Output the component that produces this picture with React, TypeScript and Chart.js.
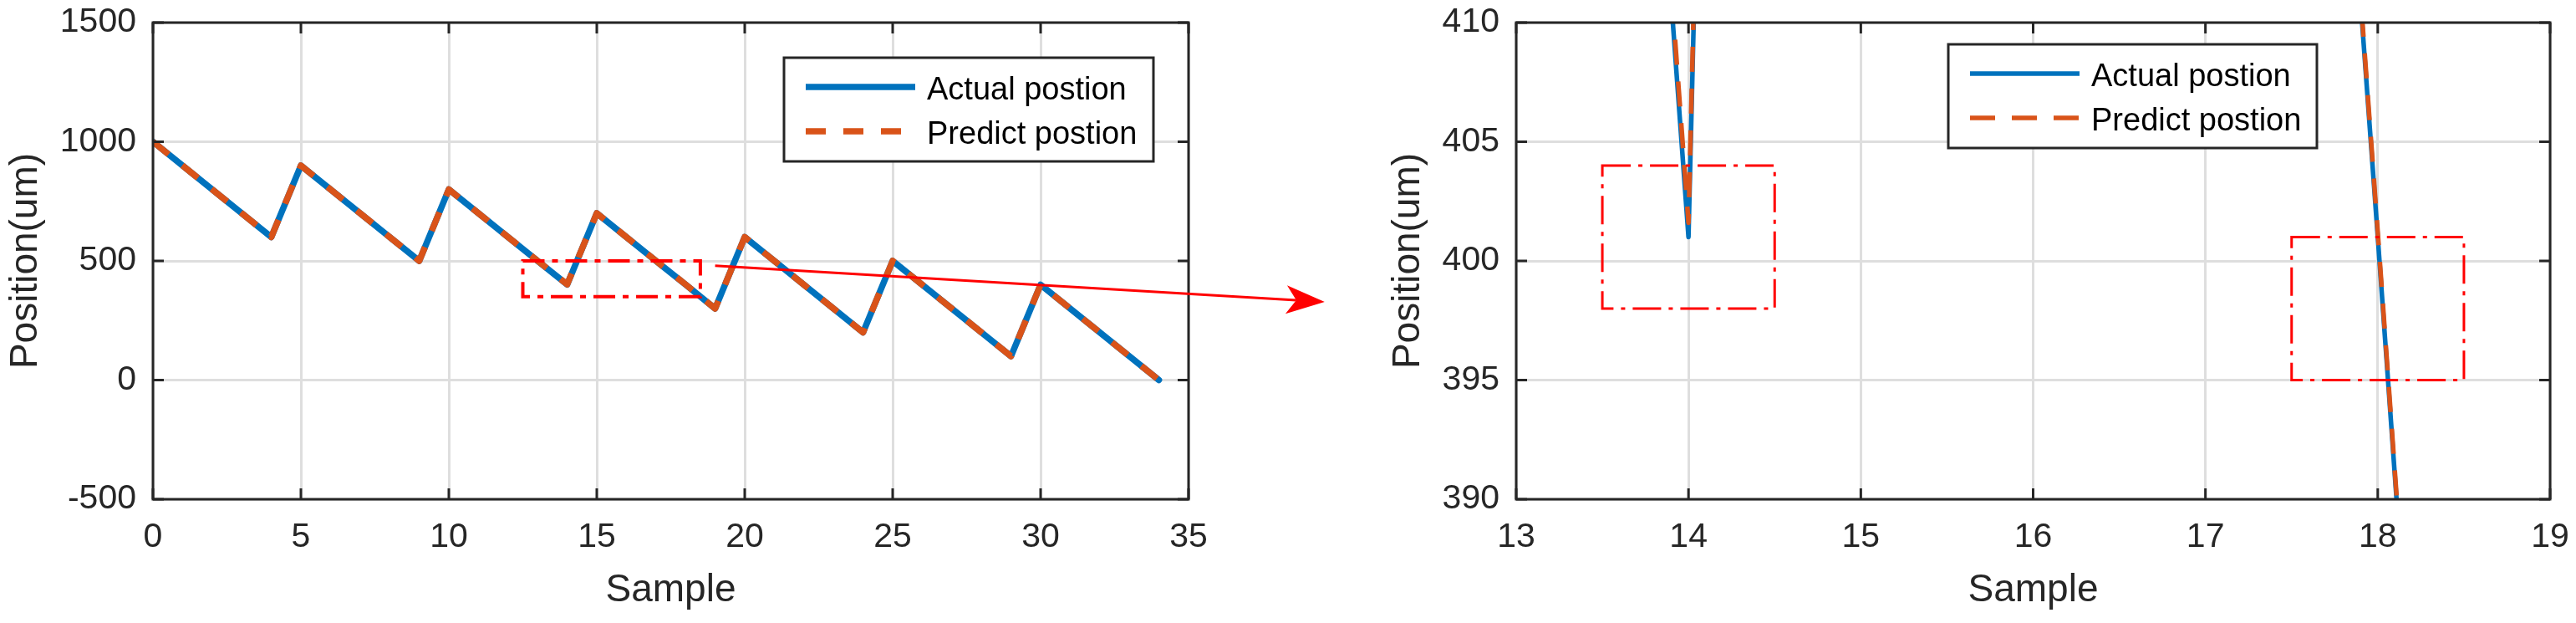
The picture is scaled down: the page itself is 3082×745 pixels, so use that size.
import React, { useEffect, useRef } from 'react';
import { Chart, registerables } from 'chart.js';

Chart.register(...registerables);

const FONT = "'Liberation Sans', Arial, Helvetica, sans-serif";

// ---------- data ----------
const sampleIndex = [0, 1, 2, 3, 4, 5, 6, 7, 8, 9, 10, 11, 12, 13, 14, 15, 16, 17, 18, 19, 20, 21, 22, 23, 24, 25, 26, 27, 28, 29, 30, 31, 32, 33, 34];
const actualPosition = [1000, 900, 800, 700, 600, 900, 800, 700, 600, 500, 800, 700, 600, 500, 401, 700, 600, 500, 401, 300, 600, 500, 400, 300, 200, 500, 400, 300, 200, 100, 400, 300, 200, 100, 0];
const predictPosition = [1000, 900, 800, 700, 600, 900, 800, 700, 600, 500, 800, 700, 600, 500.5, 401.6, 700, 600, 500.3, 401.2, 300, 600, 500, 400, 300, 200, 500, 400, 300, 200, 100, 400, 300, 200, 100, 0];

const seriesNames = ['Actual postion', 'Predict postion'];
const seriesColors = ['#0072BD', '#D95319'];

const xTitle = 'Sample';
const yTitle = 'Position(um)';

const overviewXTicks = [0, 5, 10, 15, 20, 25, 30, 35];
const overviewYTicks = [-500, 0, 500, 1000, 1500];
const detailXTicks = [13, 14, 15, 16, 17, 18, 19];
const detailYTicks = [390, 395, 400, 405, 410];

// zoom boxes: [xMin, xMax, yMin, yMax]
const overviewBoxes = [[12.5, 18.5, 350, 500]];
const detailBoxes = [[13.5, 14.5, 398, 404], [17.5, 18.5, 395, 401]];
// arrow from the overview box towards the detail plot (in overview data units)
const arrowFrom = [19, 480];
const arrowTo = [39.6, 328];

type Panel = {
  xTicks: number[];
  yTicks: number[];
  lineWidth: number;
  dash: number[];
  padRight: number;
  yAxisWidth: number;
  yTitlePad: number;
  boxes: number[][];
  boxWidth: number;
  boxDash: number[];
  legendPos: (ca: any) => [number, number];
  legendW: number;
  arrow: boolean;
};

function makePlugin(p: Panel) {
  return {
    id: 'decor',
    afterDatasetsDraw(chart: any) {
      const { ctx, chartArea, scales } = chart;
      const { left, right, top, bottom } = chartArea;
      const xs = scales.x;
      const ys = scales.y;
      ctx.save();
      // red dash-dot zoom boxes
      ctx.strokeStyle = '#FF0000';
      ctx.lineWidth = p.boxWidth;
      ctx.setLineDash(p.boxDash);
      for (const b of p.boxes) {
        const x0 = xs.getPixelForValue(b[0]);
        const x1 = xs.getPixelForValue(b[1]);
        const y0 = ys.getPixelForValue(b[3]);
        const y1 = ys.getPixelForValue(b[2]);
        ctx.strokeRect(x0, y0, x1 - x0, y1 - y0);
      }
      ctx.setLineDash([]);
      // axes box and inward ticks
      ctx.strokeStyle = '#262626';
      ctx.lineWidth = 3;
      ctx.beginPath();
      const tl = 13;
      for (const v of p.xTicks) {
        const px = xs.getPixelForValue(v);
        ctx.moveTo(px, bottom); ctx.lineTo(px, bottom - tl);
        ctx.moveTo(px, top); ctx.lineTo(px, top + tl);
      }
      for (const v of p.yTicks) {
        const py = ys.getPixelForValue(v);
        ctx.moveTo(left, py); ctx.lineTo(left + tl, py);
        ctx.moveTo(right, py); ctx.lineTo(right - tl, py);
      }
      ctx.stroke();
      ctx.strokeRect(left, top, right - left, bottom - top);

      // legend
      const [lx, ly] = p.legendPos(chartArea);
      const lw = p.legendW;
      const lh = 124;
      ctx.fillStyle = '#ffffff';
      ctx.fillRect(lx, ly, lw, lh);
      ctx.strokeStyle = '#262626';
      ctx.lineWidth = 3;
      ctx.strokeRect(lx, ly, lw, lh);
      for (let i = 0; i < 2; i++) {
        const yy = ly + 35 + i * 53;
        ctx.strokeStyle = seriesColors[i];
        ctx.lineWidth = p.lineWidth;
        ctx.setLineDash(i === 1 ? p.dash : []);
        ctx.beginPath();
        ctx.moveTo(lx + 26, yy);
        ctx.lineTo(lx + 157, yy);
        ctx.stroke();
        ctx.setLineDash([]);
        ctx.fillStyle = '#000000';
        ctx.font = `38px ${FONT}`;
        ctx.textBaseline = 'alphabetic';
        ctx.textAlign = 'left';
        ctx.fillText(seriesNames[i], lx + 171, yy + 15);
      }

      // arrow
      if (p.arrow) {
        const sx = xs.getPixelForValue(arrowFrom[0]);
        const sy = ys.getPixelForValue(arrowFrom[1]);
        const tx = xs.getPixelForValue(arrowTo[0]);
        const ty = ys.getPixelForValue(arrowTo[1]);
        const dx = tx - sx;
        const dy = ty - sy;
        const len = Math.hypot(dx, dy);
        const ux = dx / len;
        const uy = dy / len;
        const nx = -uy;
        const ny = ux;
        const bx = tx - 46 * ux;
        const by = ty - 46 * uy;
        const mx = tx - 34 * ux;
        const my = ty - 34 * uy;
        ctx.strokeStyle = '#FF0000';
        ctx.fillStyle = '#FF0000';
        ctx.lineWidth = 3;
        ctx.beginPath();
        ctx.moveTo(sx, sy);
        ctx.lineTo(mx, my);
        ctx.stroke();
        ctx.beginPath();
        ctx.moveTo(tx, ty);
        ctx.lineTo(bx + 17 * nx, by + 17 * ny);
        ctx.lineTo(mx, my);
        ctx.lineTo(bx - 17 * nx, by - 17 * ny);
        ctx.closePath();
        ctx.fill();
      }
      ctx.restore();
    },
  };
}

function buildConfig(p: Panel): any {
  const mk = (vals: number[]) => sampleIndex.map((x, i) => ({ x, y: vals[i] }));
  const tickFont = { family: FONT, size: 41 };
  const titleFont = { family: FONT, size: 46 };
  return {
    type: 'line',
    data: {
      datasets: [
        {
          label: seriesNames[0],
          data: mk(actualPosition),
          borderColor: seriesColors[0],
          borderWidth: p.lineWidth,
          pointRadius: 0,
          borderJoinStyle: 'round',
          borderCapStyle: 'round',
          tension: 0,
          fill: false,
          clip: 0,
          order: 2,
        },
        {
          label: seriesNames[1],
          data: mk(predictPosition),
          borderColor: seriesColors[1],
          borderWidth: p.lineWidth,
          borderDash: p.dash,
          pointRadius: 0,
          borderJoinStyle: 'round',
          borderCapStyle: 'butt',
          tension: 0,
          fill: false,
          clip: 0,
          order: 1,
        },
      ],
    },
    options: {
      responsive: false,
      animation: false,
      devicePixelRatio: 1,
      events: [],
      layout: { padding: { top: 27, right: p.padRight, left: 0, bottom: 0 } },
      plugins: { legend: { display: false }, tooltip: { enabled: false } },
      scales: {
        x: {
          type: 'linear',
          min: p.xTicks[0],
          max: p.xTicks[p.xTicks.length - 1],
          afterBuildTicks: (s: any) => { s.ticks = p.xTicks.map((v) => ({ value: v })); },
          afterFit: (s: any) => { s.height = 148; s.paddingLeft = 0; s.paddingRight = 0; },
          ticks: { autoSkip: false, maxRotation: 0, font: tickFont, color: '#262626', padding: 21, callback: (v: any) => String(v) },
          grid: { color: '#dedede', lineWidth: 3, drawTicks: false },
          border: { display: false },
          title: { display: true, text: xTitle, font: titleFont, color: '#262626', padding: { top: 0, bottom: 11 } },
        },
        y: {
          type: 'linear',
          min: p.yTicks[0],
          max: p.yTicks[p.yTicks.length - 1],
          afterBuildTicks: (s: any) => { s.ticks = p.yTicks.map((v) => ({ value: v })); },
          afterFit: (s: any) => { s.width = p.yAxisWidth; s.paddingTop = 0; s.paddingBottom = 0; },
          ticks: { autoSkip: false, font: tickFont, color: '#262626', padding: 20, callback: (v: any) => String(v) },
          grid: { color: '#dedede', lineWidth: 3, drawTicks: false },
          border: { display: false },
          title: { display: true, text: yTitle, font: titleFont, color: '#262626', padding: { top: p.yTitlePad, bottom: 0 } },
        },
      },
    },
    plugins: [makePlugin(p)],
  };
}

const overviewPanel: Panel = {
  xTicks: overviewXTicks,
  yTicks: overviewYTicks,
  lineWidth: 7.5,
  dash: [24, 21],
  padRight: 178,
  yAxisWidth: 183,
  yTitlePad: 4,
  boxes: overviewBoxes,
  boxWidth: 4,
  boxDash: [26, 9, 7, 9],
  legendPos: (ca: any) => [ca.right - 42 - 442, ca.top + 42],
  legendW: 442,
  arrow: true,
};

const detailPanel: Panel = {
  xTicks: detailXTicks,
  yTicks: detailYTicks,
  lineWidth: 5.5,
  dash: [30, 20],
  padRight: 31,
  yAxisWidth: 214,
  yTitlePad: 58,
  boxes: detailBoxes,
  boxWidth: 3,
  boxDash: [34, 9, 5, 9],
  legendPos: (ca: any) => [ca.left + 517, ca.top + 26],
  legendW: 441,
  arrow: false,
};

export default function App() {
  const leftRef = useRef<HTMLCanvasElement>(null);
  const rightRef = useRef<HTMLCanvasElement>(null);

  useEffect(() => {
    Chart.defaults.font.family = FONT;
    const c1 = new Chart(leftRef.current as HTMLCanvasElement, buildConfig(overviewPanel));
    const c2 = new Chart(rightRef.current as HTMLCanvasElement, buildConfig(detailPanel));
    return () => {
      c1.destroy();
      c2.destroy();
    };
  }, []);

  return (
    <div style={{ position: 'absolute', left: 0, top: 0, width: 3082, height: 745, background: '#ffffff', overflow: 'hidden' }}>
      <canvas ref={leftRef} width={1600} height={745} style={{ position: 'absolute', left: 0, top: 0, width: 1600, height: 745 }} />
      <canvas ref={rightRef} width={1482} height={745} style={{ position: 'absolute', left: 1600, top: 0, width: 1482, height: 745 }} />
    </div>
  );
}
